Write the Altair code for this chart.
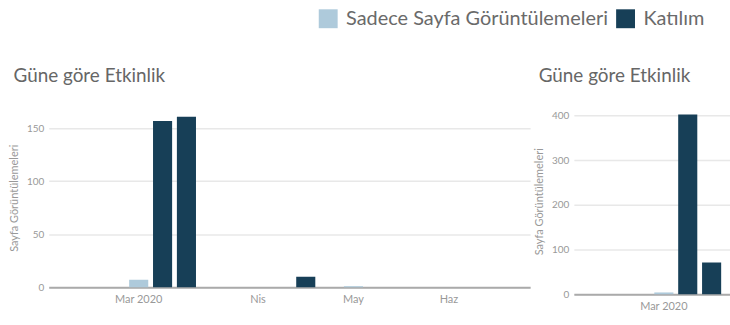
import altair as alt
import pandas as pd

# ---- data ----
weeks = ["2020-02-10", "2020-02-17", "2020-02-24", "2020-03-02", "2020-03-09",
         "2020-03-16", "2020-03-23", "2020-03-30", "2020-04-06", "2020-04-13",
         "2020-04-20", "2020-04-27", "2020-05-04", "2020-05-11", "2020-05-18",
         "2020-05-25", "2020-06-01", "2020-06-08", "2020-06-15", "2020-06-22"]
left_views_only = [0, 0, 0, 7, 0, 0, 0, 0, 0, 0, 0, 0, 1, 0, 0, 0, 0, 0, 0, 0]
left_engaged = [0, 0, 0, 0, 157, 161, 0, 0, 0, 0, 10, 0, 0, 0, 0, 0, 0, 0, 0, 0]

right_weeks = weeks[:6]
right_views_only = [0, 0, 0, 4, 0, 0]
right_engaged = [0, 0, 0, 0, 402, 71]

series_names = ["Sadece Sayfa Görüntülemeleri", "Katılım"]
series_colors = ["#aecadb", "#173f57"]
month_labels = {"2020-03-02": "Mar 2020", "2020-04-06": "Nis",
                "2020-05-04": "May", "2020-06-01": "Haz"}
left_ticks = [0, 50, 100, 150]
right_ticks = [0, 100, 200, 300, 400]
panel_title = "Güne göre Etkinlik"
y_title = "Sayfa Görüntülemeleri"


def frame(wk, views, engaged):
    rows = []
    for w, v, e in zip(wk, views, engaged):
        if v:
            rows.append({"week": w, "series": series_names[0], "value": v})
        if e:
            rows.append({"week": w, "series": series_names[1], "value": e})
    return pd.DataFrame(rows)


label_expr = " : ".join(
    f"datum.value == '{k}' ? '{v}'" for k, v in month_labels.items()) + " : ''"

FONT = "Lato"
color = alt.Color(
    "series:N",
    scale=alt.Scale(domain=series_names, range=series_colors),
    sort=series_names,
    legend=alt.Legend(
        orient="none", legendX=271, legendY=-100, direction="horizontal",
        title=None, symbolType="square", symbolSize=361, symbolStrokeWidth=0,
        labelFontSize=20, labelFont=FONT, labelColor="#6a6a6a", labelLimit=400,
        labelOffset=8, columnPadding=7,
    ),
)


def panel(df, wk, ticks, ymax, width, height, pad_outer, align):
    return alt.Chart(df).mark_bar().encode(
        x=alt.X("week:O",
                scale=alt.Scale(domain=wk, paddingInner=0.2,
                                paddingOuter=pad_outer, align=align),
                axis=alt.Axis(title=None, labelExpr=label_expr, labelAngle=0,
                              labelOverlap=False, ticks=False, grid=False,
                              domainColor="#aaaaaa", domainWidth=2,
                              labelColor="#999999", labelFontSize=11,
                              labelFont=FONT, labelPadding=6)),
        y=alt.Y("sum(value):Q",
                scale=alt.Scale(domain=[0, ymax], nice=False),
                axis=alt.Axis(title=y_title, values=ticks, domain=False,
                              ticks=False, gridColor="#e8e8e8", gridWidth=1.5,
                              labelColor="#999999", labelFontSize=10,
                              labelFont=FONT, labelPadding=5,
                              titleColor="#999999", titleFontSize=11,
                              titleFont=FONT, titleFontWeight="normal",
                              titlePadding=7)),
        color=color,
        order=alt.Order("series:N", sort="descending"),
    ).properties(
        width=width, height=height,
        title=alt.TitleParams(panel_title, anchor="start", fontSize=19,
                              font=FONT, fontWeight="normal", color="#666666",
                              dx=5, offset=22),
    )


left = panel(frame(weeks, left_views_only, left_engaged), weeks, left_ticks,
             169, 484, 180, 0.185, 1)
right = panel(frame(right_weeks, right_views_only, right_engaged), right_weeks,
              right_ticks, 416, 157, 187, 0.37, 0.5)

chart = alt.hconcat(left, right, spacing=3).properties(
    padding={"left": 8, "top": 8, "right": 0, "bottom": 0},
    background="white",
).configure_view(stroke=None)

chart.save("out.html", embed_options={"renderer": "svg", "actions": False})
